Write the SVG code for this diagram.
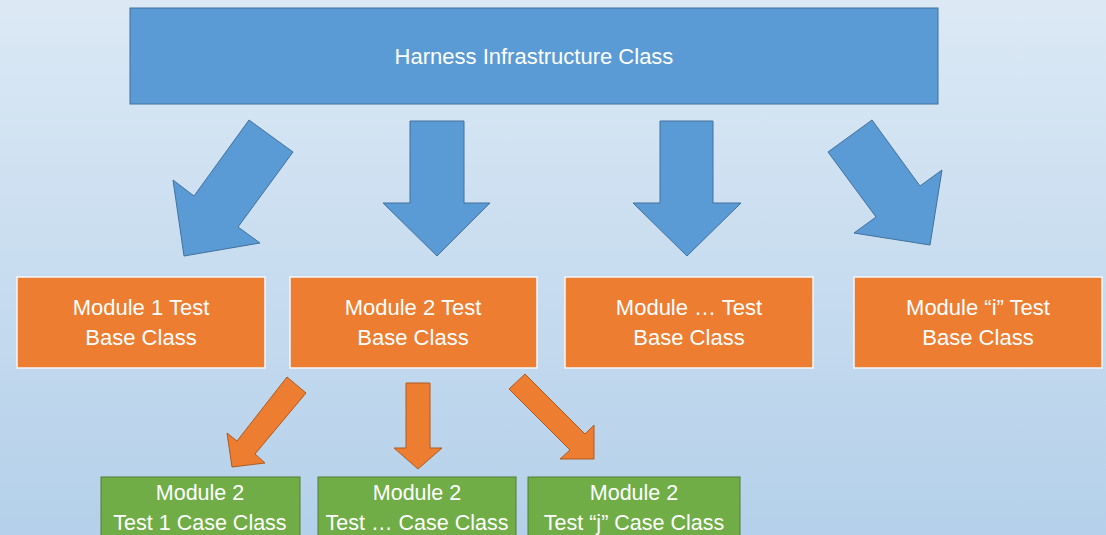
<svg xmlns="http://www.w3.org/2000/svg" width="1106" height="535" viewBox="0 0 1106 535">
<defs>
<linearGradient id="bg" x1="0" y1="0" x2="0" y2="1">
<stop offset="0" stop-color="#dce9f5"/>
<stop offset="1" stop-color="#b4d0ea"/>
</linearGradient>
<style>
.t{font-family:"Liberation Sans",Arial,sans-serif;font-size:22px;fill:#ffffff;text-anchor:middle}
.tg{font-family:"Liberation Sans",Arial,sans-serif;font-size:21.5px;fill:#ffffff;text-anchor:middle}
.blue{fill:#5b9bd5;stroke:#41719c;stroke-width:1}
.orange{fill:#ed7d31;stroke:#f4f6fa;stroke-width:1.5}
.green{fill:#70ad47;stroke:#507e32;stroke-width:1}
.barrow{fill:#5b9bd5;stroke:#41719c;stroke-width:1}
.oarrow{fill:#ed7d31;stroke:#ae5a21;stroke-width:1}
</style>
</defs>
<rect x="0" y="0" width="1106" height="535" fill="url(#bg)"/>
<g id="harness">
<rect class="blue" x="130" y="8" width="808" height="96"/>
<text class="t" x="534" y="64" font-size="22.5">Harness Infrastructure Class</text>
</g>
<g id="connectors">
<polygon class="barrow" points="249,120 293,152 238,227 260,243 184,256 173,180 194,196"/>
<polygon class="barrow" points="410,121 464,121 464,203 490,203 437,256 383,203 410,203"/>
<polygon class="barrow" points="660,121 713,121 713,203 741,203 687,256 633,203 660,203"/>
<polygon class="barrow" points="872,120 828,152 876,217 854,233 930,245 942,170 920,186"/>
<polygon class="oarrow" points="287,377 306,393 255,454 265,463 232,467 227,433 237,441"/>
<polygon class="oarrow" points="406,383 430,383 430,448 442,448 418,469 394,448 406,448"/>
<polygon class="oarrow" points="525,374 509,389 570,450 560,459 594,459 594,425 585,434"/>
</g>
<g id="m1">
<rect class="orange" x="17" y="277" width="248" height="91"/>
<text class="t" x="141" y="315">Module 1 Test</text>
<text class="t" x="141" y="345">Base Class</text>
</g>
<g id="m2">
<rect class="orange" x="290" y="277" width="247" height="91"/>
<text class="t" x="413" y="315">Module 2 Test</text>
<text class="t" x="413" y="345">Base Class</text>
</g>
<g id="m3">
<rect class="orange" x="565" y="277" width="248" height="91"/>
<text class="t" x="689" y="315">Module … Test</text>
<text class="t" x="689" y="345">Base Class</text>
</g>
<g id="mi">
<rect class="orange" x="854" y="277" width="248" height="91"/>
<text class="t" x="978" y="315">Module “i” Test</text>
<text class="t" x="978" y="345">Base Class</text>
</g>
<g id="t1">
<rect class="green" x="101" y="477" width="199" height="70"/>
<text class="tg" x="200" y="500">Module 2</text>
<text class="tg" x="200" y="530">Test 1 Case Class</text>
</g>
<g id="t2">
<rect class="green" x="318" y="477" width="198" height="70"/>
<text class="tg" x="417" y="500">Module 2</text>
<text class="tg" x="417" y="530">Test … Case Class</text>
</g>
<g id="tj">
<rect class="green" x="528" y="477" width="212" height="70"/>
<text class="tg" x="634" y="500">Module 2</text>
<text class="tg" x="634" y="530">Test “j” Case Class</text>
</g>
</svg>
